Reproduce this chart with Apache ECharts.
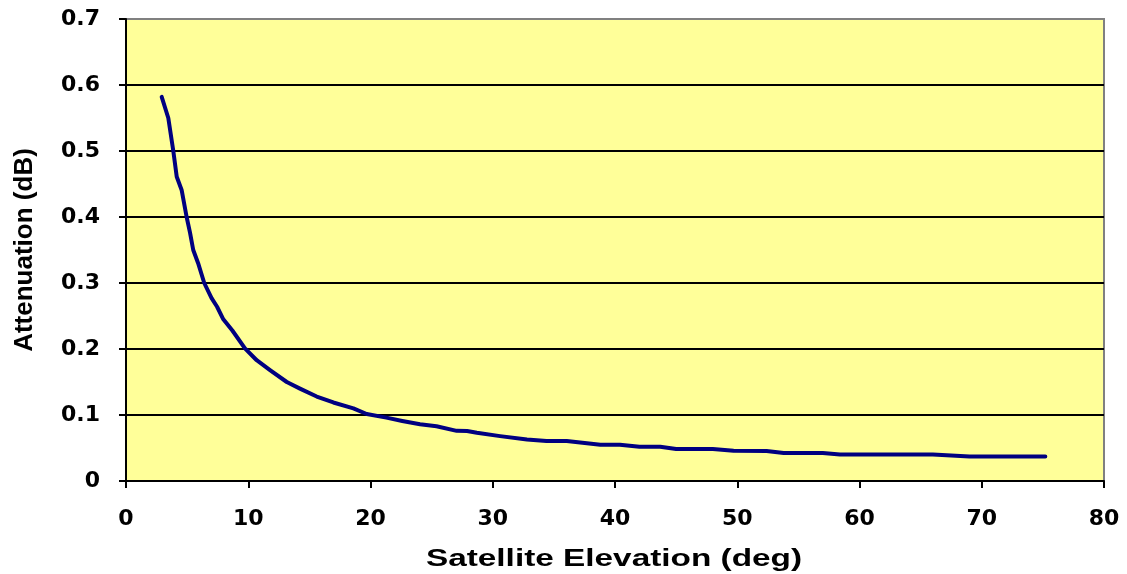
<!DOCTYPE html>
<html><head><meta charset="utf-8">
<script src="https://cdn.jsdelivr.net/npm/echarts@6/dist/echarts.min.js"></script>
<style>html,body{margin:0;padding:0;background:#fff}#c{width:1127px;height:574px}</style>
</head><body><div id="c"></div>
<script>
const elevation = [2.92, 3.46, 3.87, 4.15, 4.55, 4.96, 5.24, 5.5, 5.9, 6.4, 7.0, 7.45, 7.96, 8.7, 9.73, 10.69, 11.78, 13.15, 14.23, 15.6, 16.96, 18.6, 19.69, 21.3, 22.6, 24.05, 25.4, 27.05, 27.9, 28.7, 30.6, 32.8, 34.4, 36.05, 38.8, 40.4, 42.0, 43.7, 45.0, 48.0, 49.7, 52.4, 53.8, 57.0, 58.4, 66.0, 69.0, 75.2];
const attenuation = [0.582, 0.55, 0.50, 0.461, 0.441, 0.40, 0.376, 0.35, 0.33, 0.30, 0.277, 0.264, 0.245, 0.228, 0.201, 0.183, 0.168, 0.150, 0.140, 0.128, 0.119, 0.110, 0.1015, 0.096, 0.091, 0.086, 0.083, 0.076, 0.0758, 0.073, 0.068, 0.063, 0.0606, 0.0606, 0.055, 0.055, 0.052, 0.052, 0.0485, 0.0485, 0.0458, 0.0455, 0.0424, 0.0424, 0.040, 0.040, 0.037, 0.037];
const xTitle = 'Satellite Elevation (deg)';
const yTitle = 'Attenuation (dB)';

const chart = echarts.init(document.getElementById('c'));
const font = 'Liberation Sans, Arial, sans-serif';
const labelFont = 'DejaVu Sans, sans-serif';
chart.setOption({
  animation: false,
  backgroundColor: '#fff',
  grid: { left: 126, top: 19, right: 23, bottom: 93, show: true, backgroundColor: '#FFFF99', borderColor: '#808080', borderWidth: 2 },
  graphic: [{
    type: 'text', x: 614, y: 560, scaleX: 1.45,
    style: { text: xTitle, font: 'bold 23px Liberation Sans, Arial, sans-serif', fill: '#000', textAlign: 'center', textVerticalAlign: 'middle' }
  }],
  xAxis: {
    type: 'value', min: 0, max: 80, interval: 10,
    axisLine: { lineStyle: { color: '#000', width: 2 } },
    axisTick: { show: true, length: 7, inside: false, lineStyle: { color: '#000', width: 2 } },
    axisLabel: { fontFamily: labelFont, fontWeight: 'bold', fontSize: 22, color: '#000', margin: 27 },
    splitLine: { show: false }
  },
  yAxis: {
    type: 'value', min: 0, max: 0.7, interval: 0.1,
    name: yTitle, nameLocation: 'middle', nameGap: 88, nameRotate: 90,
    nameTextStyle: { fontFamily: font, fontWeight: 'bold', fontSize: 26, color: '#000' },
    axisLine: { lineStyle: { color: '#000', width: 2 } },
    axisTick: { show: true, length: 7, inside: false, lineStyle: { color: '#000', width: 2 } },
    axisLabel: { fontFamily: labelFont, fontWeight: 'bold', fontSize: 22, color: '#000', margin: 26, formatter: v => v === 0 ? '0' : v.toFixed(1) },
    splitLine: { show: true, lineStyle: { color: ['#000','#000','#000','#000','#000','#000','#000','#808080'], width: 2 } }
  },
  series: [{
    type: 'line', data: elevation.map((x, i) => [x, attenuation[i]]),
    showSymbol: false, smooth: false,
    lineStyle: { color: '#000080', width: 4, cap: 'round', join: 'round' }
  }]
});
</script></body></html>
